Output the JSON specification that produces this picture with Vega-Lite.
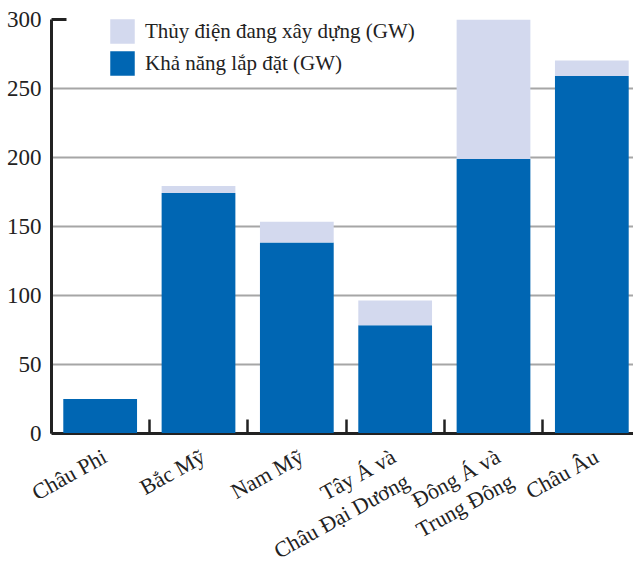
{
  "$schema": "https://vega.github.io/schema/vega-lite/v6.json",
  "width": 590,
  "height": 414,
  "autosize": {"type": "none"},
  "padding": {"left": 51, "top": 19, "right": -8, "bottom": 129},
  "background": "white",
  "config": {
    "view": {"stroke": null},
    "font": "Liberation Serif",
    "axis": {"labelFont": "Liberation Serif"},
    "legend": {"labelFont": "Liberation Serif"}
  },
  "data": {
    "values": [
      {"region": "Châu Phi", "type": "Khả năng lắp đặt (GW)", "value": 24.6},
      {"region": "Châu Phi", "type": "Thủy điện đang xây dựng (GW)", "value": 0},
      {"region": "Bắc Mỹ", "type": "Khả năng lắp đặt (GW)", "value": 174},
      {"region": "Bắc Mỹ", "type": "Thủy điện đang xây dựng (GW)", "value": 5},
      {"region": "Nam Mỹ", "type": "Khả năng lắp đặt (GW)", "value": 138},
      {"region": "Nam Mỹ", "type": "Thủy điện đang xây dựng (GW)", "value": 15},
      {"region": "Tây Á và Châu Đại Dương", "type": "Khả năng lắp đặt (GW)", "value": 78},
      {"region": "Tây Á và Châu Đại Dương", "type": "Thủy điện đang xây dựng (GW)", "value": 18},
      {"region": "Đông Á và Trung Đông", "type": "Khả năng lắp đặt (GW)", "value": 198.5},
      {"region": "Đông Á và Trung Đông", "type": "Thủy điện đang xây dựng (GW)", "value": 101},
      {"region": "Châu Âu", "type": "Khả năng lắp đặt (GW)", "value": 258.7},
      {"region": "Châu Âu", "type": "Thủy điện đang xây dựng (GW)", "value": 11.3}
    ]
  },
  "mark": {"type": "bar", "width": {"band": 0.75}},
  "encoding": {
    "x": {
      "field": "region",
      "type": "nominal",
      "sort": null,
      "scale": {"paddingInner": 0, "paddingOuter": 0},
      "axis": {
        "title": null,
        "domainColor": "#222222",
        "domainWidth": 3,
        "ticks": true,
        "bandPosition": 0,
        "tickSize": -14,
        "tickWidth": 2.5,
        "tickColor": "#222222",
        "labelAngle": -29,
        "labelAlign": "right",
        "labelBaseline": "top",
        "labelDx": 27,
        "labelPadding": 27,
        "labelOffset": {"condition": {"test": "datum.value == 'Tây Á và Châu Đại Dương'", "value": -6}, "value": 0},
        "labelFontSize": 22,
        "labelColor": "#222222",
        "labelLineHeight": 28,
        "labelLimit": 400,
        "labelExpr": "datum.value == 'Tây Á và Châu Đại Dương' ? ['Tây Á và', 'Châu Đại Dương'] : datum.value == 'Đông Á và Trung Đông' ? ['Đông Á và', 'Trung Đông'] : datum.value"
      }
    },
    "y": {
      "field": "value",
      "type": "quantitative",
      "stack": "zero",
      "scale": {"domain": [0, 300], "nice": false},
      "axis": {
        "title": null,
        "values": [0, 50, 100, 150, 200, 250, 300],
        "domainColor": "#222222",
        "domainWidth": 3,
        "grid": true,
        "gridColor": "#a6a6a6",
        "gridWidth": 2,
        "gridOpacity": {"condition": {"test": "datum.value == 300 || datum.value == 0", "value": 0}, "value": 1},
        "ticks": true,
        "tickSize": -15,
        "tickWidth": 3,
        "tickColor": "#222222",
        "tickOpacity": {"condition": {"test": "datum.value == 300", "value": 1}, "value": 0},
        "labelFontSize": 23,
        "labelColor": "#222222",
        "labelPadding": 25
      }
    },
    "color": {
      "field": "type",
      "type": "nominal",
      "scale": {
        "domain": ["Thủy điện đang xây dựng (GW)", "Khả năng lắp đặt (GW)"],
        "range": ["#d3d9ee", "#0066b3"]
      },
      "legend": {
        "title": null,
        "orient": "none",
        "legendX": 59,
        "legendY": 0,
        "symbolType": "square",
        "symbolSize": 600,
        "symbolStrokeWidth": 0,
        "labelFontSize": 21,
        "labelColor": "#222222",
        "labelLimit": 400,
        "rowPadding": 7,
        "labelOffset": 10
      }
    },
    "order": {"field": "type", "sort": "ascending"}
  }
}
